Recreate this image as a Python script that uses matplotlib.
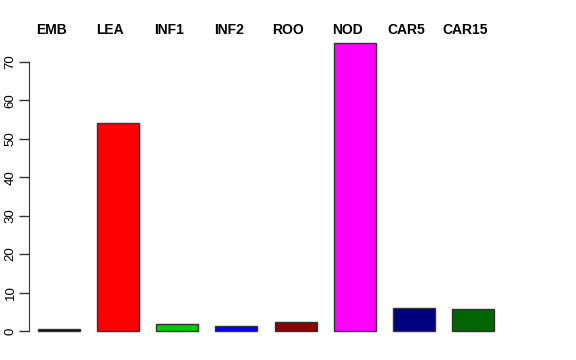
import matplotlib
matplotlib.use("Agg")
import matplotlib.pyplot as plt
import numpy as np

plt.rcParams['font.family'] = ['Liberation Sans', 'DejaVu Sans']

# tissue labels and values
names = ['EMB', 'LEA', 'INF1', 'INF2', 'ROO', 'NOD', 'CAR5', 'CAR15']
values = [0.5, 54.1, 1.8, 1.4, 2.3, 75.0, 5.9, 5.7]
colors = ['black', 'red', '#00CD00', 'blue', '#8B0000', 'magenta', '#000080', '#006400']
yticks = [0, 10, 20, 30, 40, 50, 60, 70]

fig = plt.figure(figsize=(5.76, 3.6), dpi=100)
# plot region placed like R's default barplot device margins
ax = fig.add_axes([29 / 576, (360 - 342.5) / 360, (503 - 29) / 576, (342.5 - 31) / 360])

x = np.arange(len(names))
ax.bar(x, values, width=0.71, color=colors, edgecolor='#333333', linewidth=1.0)

ax.set_xlim(-0.35 - 0.153, len(names) - 1 + 0.35 + 0.153)
ax.set_ylim(-3, 78)

# only the left axis, drawn from 0 to 70 as R does
for s in ['top', 'right', 'bottom']:
    ax.spines[s].set_visible(False)
ax.spines['left'].set_bounds(0, 70)
ax.spines['left'].set_color('#333333')
ax.set_xticks([])
ax.set_yticks(yticks)
ax.set_yticklabels([str(t) for t in yticks], rotation=90, va='center', fontsize=9.5)
ax.tick_params(axis='y', length=7, width=1, color='#333333', pad=2)

# bar names written above the plot
for xi, n in zip(x, names):
    ax.text(xi - 0.13, 78.3, n, ha='center', va='center', fontsize=10,
            fontweight='bold', clip_on=False)

fig.savefig('out.png', dpi=100)
